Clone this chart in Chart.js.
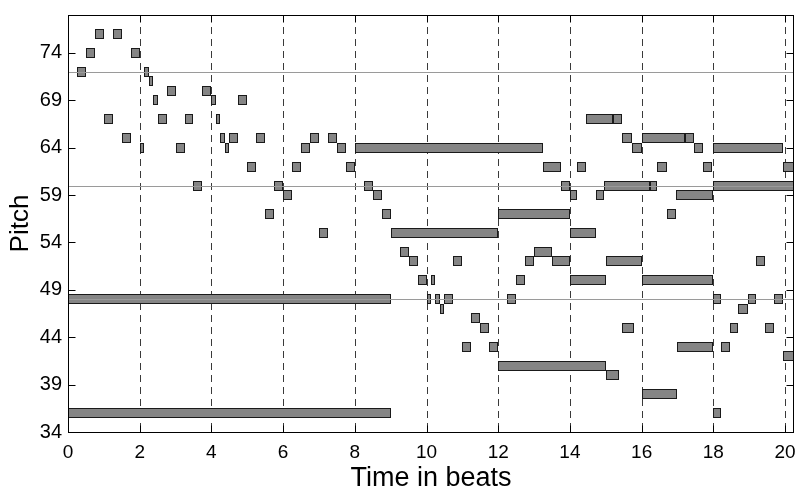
<!DOCTYPE html>
<html>
<head>
<meta charset="utf-8">
<script src="https://cdn.jsdelivr.net/npm/chart.js@4"></script>
<style>
  html, body { margin: 0; padding: 0; background: #fff; }
  canvas { display: block; }
</style>
</head>
<body>
<canvas id="roll" width="795" height="491"></canvas>
<script>
// Piano-roll: one note per index (onset, offset in beats; MIDI pitch)
const onsets = [
  0, 0, 0.25, 0.5, 0.75, 1.0, 1.25, 1.5, 1.75, 2.0,
  2.125, 2.25, 2.375, 2.5, 2.75, 3.0, 3.25, 3.5, 3.75, 4.0,
  4.125, 4.25, 4.375, 4.5, 4.75, 5.0, 5.25, 5.5, 5.75, 6.0,
  6.25, 6.5, 6.75, 7.0, 7.25, 7.5, 7.75, 8.0, 8.25, 8.5,
  8.75, 9.0, 9.25, 9.5, 9.75, 10.0, 10.125, 10.25, 10.375, 10.5,
  10.75, 11.0, 11.25, 11.5, 11.75, 12.0, 12.0, 12.25, 12.5, 12.75,
  13.0, 13.25, 13.5, 13.75, 14.0, 14.0, 14.0, 14.2, 14.45, 14.72,
  14.95, 15.0, 15.0, 15.2, 15.45, 15.45, 15.72, 16.0, 16.0, 16.0,
  16.23, 16.43, 16.7, 16.95, 17.0, 17.2, 17.46, 17.7, 18.0, 18.0,
  18.0, 18.0, 18.22, 18.46, 18.7, 18.96, 19.2, 19.44, 19.68, 19.94,
  19.95
];
const offsets = [
  9.0, 9.0, 0.5, 0.75, 1.0, 1.25, 1.5, 1.75, 2.0, 2.125,
  2.25, 2.375, 2.5, 2.75, 3.0, 3.25, 3.5, 3.75, 4.0, 4.125,
  4.25, 4.375, 4.5, 4.75, 5.0, 5.25, 5.5, 5.75, 6.0, 6.25,
  6.5, 6.75, 7.0, 7.25, 7.5, 7.75, 8.0, 13.25, 8.5, 8.75,
  9.0, 12.0, 9.5, 9.75, 10.0, 10.125, 10.25, 10.375, 10.5, 10.75,
  11.0, 11.25, 11.5, 11.75, 12.0, 15.0, 14.0, 12.5, 12.75, 13.0,
  13.5, 13.75, 14.0, 14.0, 14.2, 14.72, 15.0, 14.45, 15.2, 14.95,
  16.23, 16.0, 15.375, 15.45, 15.8, 15.72, 16.0, 17.2, 18.0, 17.0,
  16.44, 16.7, 16.95, 18.0, 18.0, 17.46, 17.7, 17.96, 19.95, 20.4,
  18.22, 18.22, 18.46, 18.7, 18.96, 19.2, 19.44, 19.68, 19.94, 20.4,
  20.4
];
const pitches = [
  48, 36, 72, 74, 76, 67, 76, 65, 74, 64,
  72, 71, 69, 67, 70, 64, 67, 60, 70, 69,
  67, 65, 64, 65, 69, 62, 65, 57, 60, 59,
  62, 64, 65, 55, 65, 64, 62, 64, 60, 59,
  57, 55, 53, 52, 50, 48, 50, 48, 47, 48,
  52, 43, 46, 45, 43, 41, 57, 48, 50, 52,
  53, 62, 52, 60, 59, 55, 50, 62, 67, 59,
  60, 52, 40, 67, 45, 65, 64, 65, 50, 38,
  60, 62, 57, 59, 43, 65, 64, 62, 64, 60,
  48, 36, 43, 45, 47, 48, 52, 45, 48, 42,
  62
];

// Axis ticks and the reference lines at the C pitches
const xTicks = [0, 2, 4, 6, 8, 10, 12, 14, 16, 18, 20];
const yTicks = [34, 39, 44, 49, 54, 59, 64, 69, 74];
const cLines = [48, 60, 72];

const notes = onsets.map((s, i) => ({ x: [s, offsets[i]], y: pitches[i] }));

const FONT = "'Liberation Sans', Arial, Helvetica, sans-serif";

// Beat grid, C lines, frame and inward tick marks
const frame = {
  id: 'frame',
  beforeDatasetsDraw(chart) {
    const { ctx, chartArea: a, scales: { x } } = chart;
    ctx.save();
    ctx.strokeStyle = '#3a3a3a';
    ctx.lineWidth = 1;
    ctx.setLineDash([7, 5]);
    xTicks.forEach(v => {
      if (v === 0) return;
      const px = Math.round(x.getPixelForValue(v)) + 0.5;
      ctx.beginPath();
      ctx.moveTo(px, a.top);
      ctx.lineTo(px, a.bottom);
      ctx.stroke();
    });
    ctx.restore();
    // snap note rectangles to whole pixels so their outlines stay crisp
    chart.getDatasetMeta(0).data.forEach(el => {
      const h = Math.round(el.height);
      const top = Math.round(el.y - el.height / 2);
      el.height = h;
      el.y = top + h / 2;
      el.x = Math.round(el.x);
      el.base = Math.round(el.base);
    });
  },
  afterDatasetsDraw(chart) {
    const { ctx, chartArea: a, scales: { x, y } } = chart;
    ctx.save();
    ctx.lineWidth = 1;
    ctx.strokeStyle = '#9a9a9a';
    cLines.forEach(v => {
      const py = Math.round(y.getPixelForValue(v)) + 0.5;
      ctx.beginPath();
      ctx.moveTo(a.left, py);
      ctx.lineTo(a.right, py);
      ctx.stroke();
    });
    ctx.strokeStyle = '#000';
    const L = Math.round(a.left) + 0.5, R = Math.round(a.right) - 0.5;
    const T = Math.round(a.top) + 0.5, B = Math.round(a.bottom) + 0.5;
    ctx.strokeRect(L, T, R - L, B - T);
    const len = 7;
    ctx.beginPath();
    yTicks.forEach(v => {
      const py = Math.round(y.getPixelForValue(v)) + 0.5;
      ctx.moveTo(L, py); ctx.lineTo(L + len, py);
      ctx.moveTo(R, py); ctx.lineTo(R - len, py);
    });
    xTicks.forEach(v => {
      const px = Math.round(x.getPixelForValue(v)) + 0.5;
      ctx.moveTo(px, B); ctx.lineTo(px, B - len);
      ctx.moveTo(px, T); ctx.lineTo(px, T + len);
    });
    ctx.stroke();
    ctx.restore();
  }
};

new Chart(document.getElementById('roll'), {
  type: 'bar',
  data: {
    datasets: [{
      data: notes,
      backgroundColor: '#858585',
      borderColor: '#1a1a1a',
      borderWidth: 1,
      borderSkipped: false,
      inflateAmount: 0,
      barPercentage: 1.06,
      categoryPercentage: 1
    }]
  },
  options: {
    indexAxis: 'y',
    responsive: false,
    animation: false,
    devicePixelRatio: 1,
    layout: { autoPadding: false, padding: { top: 15, right: 1, left: 0, bottom: 0 } },
    plugins: { legend: { display: false }, tooltip: { enabled: false } },
    scales: {
      x: {
        type: 'linear',
        position: 'bottom',
        min: 0,
        max: 20.25,
        offset: false,
        afterBuildTicks: s => { s.ticks = xTicks.map(v => ({ value: v })); },
        afterFit: s => { s.height = 59; s.paddingLeft = 0; s.paddingRight = 0; },
        grid: { display: false, drawTicks: false },
        border: { display: false },
        ticks: { padding: 9, color: '#000', maxRotation: 0, autoSkip: false,
                 font: { family: FONT, size: 19 } },
        title: { display: true, text: 'Time in beats', color: '#000',
                 font: { family: FONT, size: 27, lineHeight: 0.9 },
                 padding: { top: 0, bottom: 0 } }
      },
      y: {
        type: 'linear',
        position: 'left',
        min: 34,
        max: 78,
        offset: false,
        afterBuildTicks: s => { s.ticks = yTicks.map(v => ({ value: v })); },
        afterFit: s => { s.width = 68; s.paddingTop = 0; s.paddingBottom = 0; },
        grid: { display: false, drawTicks: false },
        border: { display: false },
        ticks: { padding: 6, color: '#000', autoSkip: false,
                 font: { family: FONT, size: 20 } },
        title: { display: true, text: 'Pitch', color: '#000',
                 font: { family: FONT, size: 26, lineHeight: 1 },
                 padding: { top: 8, bottom: 0 } }
      }
    }
  },
  plugins: [frame]
});
</script>
</body>
</html>
